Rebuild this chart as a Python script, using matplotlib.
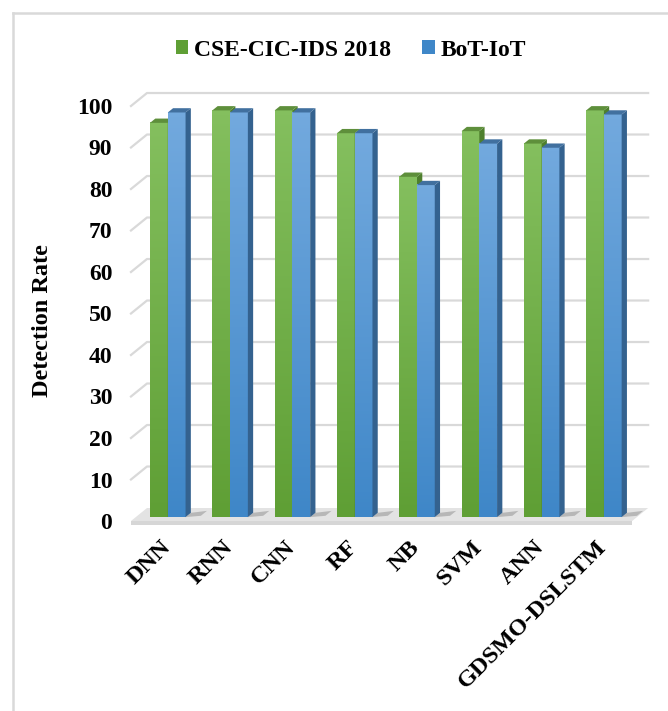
import numpy as np
import matplotlib
matplotlib.use("Agg")
import matplotlib.pyplot as plt
from matplotlib.patches import Polygon, Rectangle
from matplotlib.lines import Line2D

plt.rcParams["font.family"] = ["Liberation Serif", "DejaVu Serif"]
plt.rcParams["font.weight"] = "bold"

categories = ["DNN", "RNN", "CNN", "RF", "NB", "SVM", "ANN", "GDSMO-DSLSTM"]
cse_cic = [95, 98, 98, 92.5, 82, 93, 90, 98]
bot_iot = [97.5, 97.5, 97.5, 92.5, 80, 90, 89, 97]
yticks = list(range(0, 101, 10))
series_names = ["CSE-CIC-IDS 2018", "BoT-IoT"]

# 3D look: depth offsets (category units, value units)
DX, DY = 0.257, 3.13
ZB, BD = 0.30, 0.33          # bar front depth, bar depth
BW = 0.285                   # bar width
X0, X1 = -0.514, 7.53        # floor extent

def P(x, y, z):
    return (x + z * DX, y + z * DY)

G_FRONT = ("#84bf5e", "#5f9f35"); G_SIDE = "#4e7f2d"; G_TOP = "#5e8f3b"
B_FRONT = ("#72a9de", "#3f87c8"); B_SIDE = "#34628f"; B_TOP = "#41709f"

fig = plt.figure(figsize=(6.68, 7.11), dpi=100)
W, H = 668, 711
ax = fig.add_axes([122 / W, (H - 540) / H, (660 - 122) / W, (540 - 80) / H])
ax.set_xlim((122 - 163) / 62.3, (660 - 163) / 62.3)
ax.set_ylim((521 - 540) / 4.15, (521 - 80) / 4.15)
for s in ax.spines.values():
    s.set_visible(False)
ax.set_xticks([])
ax.set_yticks(yticks)
ax.set_yticklabels([str(t) for t in yticks], fontsize=17, fontweight="bold")
ax.tick_params(axis="y", length=0, pad=7)

# gridlines: left-wall slant + back wall
for t in yticks[1:]:
    pts = [P(X0, t, 0), P(X0, t, 1), P(X1, t, 1)]
    ax.plot([p[0] for p in pts], [p[1] for p in pts], color="#d9d9d9", lw=1.6, zorder=1)

# floor
floor = [P(X0, 0, 0), P(X1, 0, 0), P(X1, 0, 1), P(X0, 0, 1)]
ax.add_patch(Polygon(floor, closed=True, fc="#e3e3e3", ec="none", zorder=2))
ax.add_patch(Rectangle((X0, -0.9), X1 - X0, 0.9, fc="#d6d6d6", ec="none", zorder=2))

def gradient_rect(x, w, y0, y1, cols, z):
    cmap = matplotlib.colors.LinearSegmentedColormap.from_list("g", [cols[1], cols[0]])
    grad = np.linspace(0, 1, 64).reshape(-1, 1)
    ax.imshow(grad, extent=(x, x + w, y0, y1), origin="lower", cmap=cmap,
              aspect="auto", zorder=z, interpolation="bilinear")

def draw_bar(xl, v, front, side, top, z):
    fx, fy = P(xl, 0, ZB)
    gradient_rect(fx, BW, fy, fy + v, front, z)
    side_poly = [P(xl + BW, 0, ZB), P(xl + BW, 0, ZB + BD), P(xl + BW, v, ZB + BD), P(xl + BW, v, ZB)]
    ax.add_patch(Polygon(side_poly, closed=True, fc=side, ec="none", zorder=z))
    top_poly = [P(xl, v, ZB), P(xl + BW, v, ZB), P(xl + BW, v, ZB + BD), P(xl, v, ZB + BD)]
    ax.add_patch(Polygon(top_poly, closed=True, fc=top, ec="none", zorder=z + 0.1))

xs = np.arange(len(categories))
for i, (g, b) in enumerate(zip(cse_cic, bot_iot)):
    # floor shadow
    sh = [P(xs[i] + BW, 0, ZB), P(xs[i] + BW + 0.22, 0, ZB + 0.1),
          P(xs[i] + BW + 0.22, 0, ZB + BD + 0.15), P(xs[i] + BW, 0, ZB + BD)]
    ax.add_patch(Polygon(sh, closed=True, fc="#9a9a9a", ec="none", alpha=0.6, zorder=2.5))
    draw_bar(xs[i] - BW, g, G_FRONT, G_SIDE, G_TOP, 3 + i)
    draw_bar(xs[i], b, B_FRONT, B_SIDE, B_TOP, 3.5 + i)

for i, lab in enumerate(categories):
    ax.text(xs[i] + 0.07, -5.6, lab, rotation=45, rotation_mode="anchor",
            ha="right", va="center", fontsize=17.5, fontweight="bold", clip_on=False)

ax.set_ylabel("Detection Rate", fontsize=17.5, fontweight="bold")
ax.yaxis.set_label_coords(-0.128, 0.476)

handles = [Rectangle((0, 0), 1, 1, fc=G_FRONT[1]), Rectangle((0, 0), 1, 1, fc=B_FRONT[1])]
fig.legend(handles, series_names, loc="center", bbox_to_anchor=(351 / W, 1 - 50 / H),
           ncol=2, frameon=False, handlelength=0.55, handleheight=0.55,
           handletextpad=0.25, columnspacing=1.3, prop={"weight": "bold", "size": 17})

# chart border (left and top edges visible)
fig.add_artist(Line2D([13 / W, 13 / W], [0, 1 - 13 / H], transform=fig.transFigure,
                      color="#d9d9d9", lw=1.8))
fig.add_artist(Line2D([13 / W, 1], [1 - 13 / H, 1 - 13 / H], transform=fig.transFigure,
                      color="#d9d9d9", lw=1.8))

fig.savefig("out.png", dpi=100)
